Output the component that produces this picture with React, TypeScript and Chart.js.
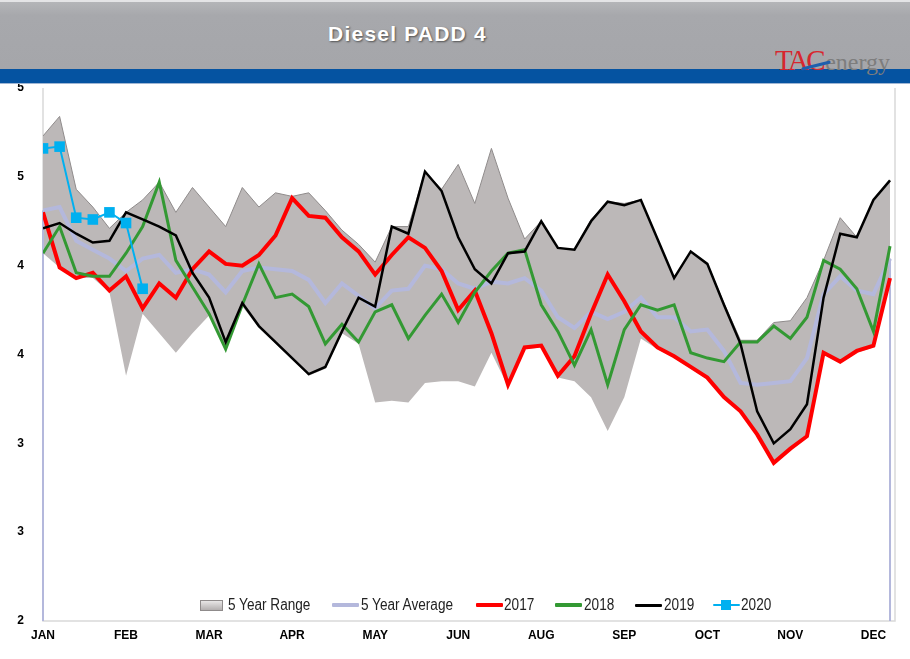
import React, { useEffect, useRef } from "react";
import { Chart, registerables } from "chart.js";

Chart.register(...registerables);

// ---- data ----
const monthTicks = ["JAN", "FEB", "MAR", "APR", "MAY", "JUN", "AUG", "SEP", "OCT", "NOV", "DEC"];
const weekIndex = Array.from({ length: 52 }, (_, i) => i);

const rangeLow = [
  4.07, 3.99, 3.93, 3.93, 3.85, 3.38, 3.73, 3.62, 3.51, 3.62,
  3.72, 3.52, 3.77, 3.65, 3.56, 3.47, 3.38, 3.42, 3.62, 3.56,
  3.23, 3.24, 3.23, 3.34, 3.35, 3.35, 3.32, 3.51, 3.32, 3.53,
  3.54, 3.37, 3.35, 3.26, 3.07, 3.26, 3.59, 3.53, 3.48, 3.42,
  3.36, 3.25, 3.17, 3.05, 2.88, 2.96, 3.03, 3.50, 3.45, 3.51,
  3.54, 3.93,
];
const rangeHigh = [
  4.73, 4.84, 4.43, 4.33, 4.21, 4.30, 4.37, 4.47, 4.30, 4.44,
  4.33, 4.22, 4.44, 4.33, 4.41, 4.39, 4.41, 4.31, 4.20, 4.12,
  4.02, 4.22, 4.22, 4.53, 4.43, 4.57, 4.35, 4.66, 4.38, 4.15,
  4.25, 4.10, 4.09, 4.26, 4.36, 4.35, 4.37, 4.15, 3.93, 4.08,
  4.01, 3.79, 3.58, 3.58, 3.68, 3.69, 3.82, 4.03, 4.27, 4.16,
  4.37, 4.48,
];
const avg5 = [
  4.31, 4.33, 4.14, 4.09, 4.04, 3.97, 4.04, 4.06, 3.96, 3.98,
  3.95, 3.85, 3.97, 3.99, 3.98, 3.97, 3.92, 3.79, 3.90, 3.83,
  3.76, 3.86, 3.87, 4.00, 3.98, 3.90, 3.87, 3.91, 3.90, 3.93,
  3.86, 3.71, 3.65, 3.74, 3.70, 3.74, 3.82, 3.71, 3.71, 3.63,
  3.64, 3.52, 3.34, 3.33, 3.34, 3.35, 3.48, 3.84, 3.94, 3.86,
  3.84, 4.04,
];
const y2017 = [
  4.30, 3.99, 3.93, 3.96, 3.86, 3.94, 3.76, 3.90, 3.82, 3.98,
  4.08, 4.01, 4.00, 4.06, 4.17, 4.38, 4.28, 4.27, 4.16, 4.08,
  3.95, 4.06, 4.16, 4.10, 3.97, 3.75, 3.86, 3.62, 3.33, 3.54,
  3.55, 3.38, 3.49, 3.73, 3.95, 3.80, 3.63, 3.54, 3.49, 3.43,
  3.37, 3.26, 3.18, 3.05, 2.89, 2.97, 3.04, 3.51, 3.46, 3.52,
  3.55, 3.93,
];
const y2018 = [
  4.07, 4.22, 3.96, 3.94, 3.94, 4.07, 4.22, 4.47, 4.03, 3.88,
  3.73, 3.53, 3.78, 4.01, 3.82, 3.84, 3.77, 3.56, 3.67, 3.57,
  3.74, 3.78, 3.59, 3.72, 3.84, 3.68, 3.85, 3.97, 4.07, 4.09,
  3.78, 3.63, 3.44, 3.64, 3.33, 3.64, 3.78, 3.75, 3.78, 3.51,
  3.48, 3.46, 3.57, 3.57, 3.66, 3.59, 3.71, 4.03, 3.98, 3.87,
  3.63, 4.11,
];
const y2019 = [
  4.21, 4.24, 4.18, 4.13, 4.14, 4.30, 4.26, 4.22, 4.17, 3.96,
  3.82, 3.57, 3.79, 3.66, 3.57, 3.48, 3.39, 3.43, 3.63, 3.82,
  3.77, 4.22, 4.18, 4.53, 4.42, 4.16, 3.98, 3.90, 4.07, 4.08,
  4.25, 4.10, 4.09, 4.25, 4.36, 4.34, 4.37, 4.15, 3.93, 4.08,
  4.01, 3.78, 3.56, 3.18, 3.00, 3.08, 3.22, 3.82, 4.18, 4.16,
  4.37, 4.48,
];
const y2020 = [4.66, 4.67, 4.27, 4.26, 4.30, 4.24, 3.87];

const toXY = (arr: number[]) => arr.map((v, i) => ({ x: weekIndex[i], y: v }));

const COLORS = {
  range: "#bcb8b8",
  rangeEdge: "#8f8b8b",
  avg: "#b4b8dc",
  y2017: "#ff0000",
  y2018: "#339933",
  y2019: "#000000",
  y2020: "#00b0f0",
};

const AVG_INDEX = 2;

const framePlugin = {
  id: "frame",
  beforeDatasetsDraw(chart: any) {
    const { ctx, chartArea } = chart;
    ctx.save();
    ctx.strokeStyle = "#d9d9d9";
    ctx.lineWidth = 1.5;
    ctx.beginPath();
    ctx.moveTo(chartArea.left, chartArea.top);
    ctx.lineTo(chartArea.left, chartArea.bottom);
    ctx.lineTo(chartArea.right, chartArea.bottom);
    ctx.lineTo(chartArea.right, chartArea.top);
    ctx.stroke();
    ctx.restore();
  },
  afterDatasetDraw(chart: any, args: any) {
    if (args.index !== AVG_INDEX) return;
    const meta = chart.getDatasetMeta(AVG_INDEX);
    const pts = meta.data;
    if (!pts || !pts.length) return;
    const { ctx, chartArea } = chart;
    ctx.save();
    ctx.strokeStyle = COLORS.avg;
    ctx.lineWidth = 2;
    ctx.beginPath();
    const a = pts[0];
    const b = pts[pts.length - 1];
    ctx.moveTo(a.x, a.y);
    ctx.lineTo(a.x, chartArea.bottom);
    ctx.moveTo(b.x, b.y);
    ctx.lineTo(b.x, chartArea.bottom);
    ctx.stroke();
    ctx.restore();
  },
};

const legendItems = [
  { label: "5 Year Range", kind: "box", color: COLORS.range, iconLeft: 200, textLeft: 228 },
  { label: "5 Year Average", kind: "line", color: COLORS.avg, width: 4, iconLeft: 332, textLeft: 361 },
  { label: "2017", kind: "line", color: COLORS.y2017, width: 4, iconLeft: 476, textLeft: 504 },
  { label: "2018", kind: "line", color: COLORS.y2018, width: 3.5, iconLeft: 555, textLeft: 584 },
  { label: "2019", kind: "line", color: COLORS.y2019, width: 3, iconLeft: 635, textLeft: 664 },
  { label: "2020", kind: "marker", color: COLORS.y2020, width: 2.5, iconLeft: 713, textLeft: 741 },
];

export default function App() {
  const canvasRef = useRef<HTMLCanvasElement | null>(null);

  useEffect(() => {
    const canvas = canvasRef.current;
    if (!canvas) return;
    const chart = new Chart(canvas, {
      type: "line",
      data: {
        datasets: [
          {
            label: "2020",
            data: toXY(y2020),
            borderColor: COLORS.y2020,
            backgroundColor: COLORS.y2020,
            borderWidth: 2,
            pointStyle: "rect",
            pointRadius: 7.5,
            pointBorderWidth: 0,
            fill: false,
            order: 1,
          },
          {
            label: "2019",
            data: toXY(y2019),
            borderColor: COLORS.y2019,
            borderWidth: 2.5,
            pointRadius: 0,
            fill: false,
            order: 2,
          },
          {
            label: "5 Year Average",
            data: toXY(avg5),
            borderColor: COLORS.avg,
            borderWidth: 4,
            pointRadius: 0,
            fill: false,
            order: 6,
          },
          {
            label: "2018",
            data: toXY(y2018),
            borderColor: COLORS.y2018,
            borderWidth: 3,
            pointRadius: 0,
            fill: false,
            order: 3,
          },
          {
            label: "2017",
            data: toXY(y2017),
            borderColor: COLORS.y2017,
            borderWidth: 4,
            pointRadius: 0,
            fill: false,
            order: 4,
          },
          {
            label: "Range low",
            data: toXY(rangeLow),
            borderColor: "rgba(0,0,0,0)",
            borderWidth: 0,
            pointRadius: 0,
            fill: false,
            order: 9,
          },
          {
            label: "5 Year Range",
            data: toXY(rangeHigh),
            borderColor: COLORS.rangeEdge,
            borderWidth: 1,
            backgroundColor: COLORS.range,
            pointRadius: 0,
            fill: "-1",
            order: 8,
          },
        ],
      },
      options: {
        responsive: false,
        animation: false,
        devicePixelRatio: 1,
        layout: { padding: { left: 0, right: 15, top: 88, bottom: 0 } },
        elements: { line: { tension: 0 } },
        plugins: {
          legend: { display: false },
          tooltip: { enabled: false },
          title: { display: false },
        },
        scales: {
          x: {
            type: "linear",
            min: 0,
            max: 51.3,
            grid: { display: false, drawTicks: false },
            border: { display: false },
            afterBuildTicks: (scale: any) => {
              scale.ticks = monthTicks.map((_, i) => ({ value: i * 5 }));
            },
            ticks: {
              autoSkip: false,
              maxRotation: 0,
              padding: 7,
              color: "#000000",
              font: { family: "'Liberation Sans', Arial, sans-serif", size: 12, weight: "bold" },
              callback: (v: any) => monthTicks[Math.round(Number(v) / 5)] ?? "",
            },
            afterFit: (scale: any) => {
              scale.height = 38;
            },
          },
          y: {
            min: 2,
            max: 5,
            grid: { display: false, drawTicks: false },
            border: { display: false },
            ticks: {
              stepSize: 0.5,
              padding: 19,
              color: "#000000",
              font: { family: "'Liberation Sans', Arial, sans-serif", size: 12, weight: "bold" },
              callback: (v: any) => String(Math.round(Number(v))),
            },
            afterFit: (scale: any) => {
              scale.width = 43;
            },
          },
        },
      },
      plugins: [framePlugin],
    } as any);
    return () => chart.destroy();
  }, []);

  return (
    <div
      style={{
        position: "fixed",
        left: 0,
        top: 0,
        width: 910,
        height: 659,
        background: "#ffffff",
        overflow: "hidden",
      }}
    >
      <canvas
        ref={canvasRef}
        width={910}
        height={659}
        style={{ position: "absolute", left: 0, top: 0, width: 910, height: 659 }}
      />
      {/* header */}
      <div
        style={{
          position: "absolute",
          left: 0,
          top: 0,
          width: 910,
          height: 69,
          background: "linear-gradient(#b4b5b8, #a7a8ac 20%, #a5a6aa)",
          borderTop: "2px solid #e4e4e6",
          boxSizing: "border-box",
        }}
      />
      <div
        style={{
          position: "absolute",
          left: 0,
          top: 69,
          width: 910,
          height: 15,
          background: "#0553a1",
          borderBottom: "1px solid #9fb6d4",
          boxSizing: "border-box",
        }}
      />
      <div
        style={{
          position: "absolute",
          left: 0,
          top: 22,
          width: 815,
          textAlign: "center",
          color: "#ffffff",
          fontFamily: "'Liberation Sans', Arial, sans-serif",
          fontWeight: "bold",
          fontSize: 21,
          letterSpacing: 1.2,
          textShadow: "1px 1px 2px #505050",
          lineHeight: "24px",
        }}
      >
        Diesel PADD 4
      </div>
      {/* logo */}
      <div
        style={{
          position: "absolute",
          left: 775,
          top: 44,
          fontFamily: "'Liberation Serif', 'DejaVu Serif', serif",
          lineHeight: "32px",
          whiteSpace: "nowrap",
        }}
      >
        <span style={{ color: "#d7262e", fontSize: 29, letterSpacing: -2.5 }}>TAC</span>
        <span style={{ color: "#7d7d7d", fontSize: 24, marginLeft: 2 }}>energy</span>
      </div>
      <div
        style={{
          position: "absolute",
          left: 801,
          top: 64,
          width: 30,
          height: 3,
          background: "#1d5fae",
          transform: "rotate(-14deg)",
          borderRadius: 2,
        }}
      />
      {/* legend */}
      {legendItems.map((it) => (
        <React.Fragment key={it.label}>
          {it.kind === "box" && (
            <div
              style={{
                position: "absolute",
                left: it.iconLeft,
                top: 600,
                width: 21,
                height: 9,
                background: "linear-gradient(#e8e6e6, #b3afaf)",
                border: "1px solid #8f8b8b",
              }}
            />
          )}
          {it.kind !== "box" && (
            <div
              style={{
                position: "absolute",
                left: it.iconLeft,
                top: 605 - (it.width || 3) / 2,
                width: 27,
                height: it.width,
                background: it.color,
                borderRadius: 1,
              }}
            />
          )}
          {it.kind === "marker" && (
            <div
              style={{
                position: "absolute",
                left: it.iconLeft + 8,
                top: 600,
                width: 10,
                height: 10,
                background: it.color,
              }}
            />
          )}
          <div
            style={{
              position: "absolute",
              left: it.textLeft,
              top: 595,
              fontFamily: "'Liberation Sans', Arial, sans-serif",
              fontSize: 16,
              lineHeight: "20px",
              color: "#222222",
              whiteSpace: "nowrap",
              transform: "scaleX(0.85)",
              transformOrigin: "left center",
            }}
          >
            {it.label}
          </div>
        </React.Fragment>
      ))}
    </div>
  );
}
